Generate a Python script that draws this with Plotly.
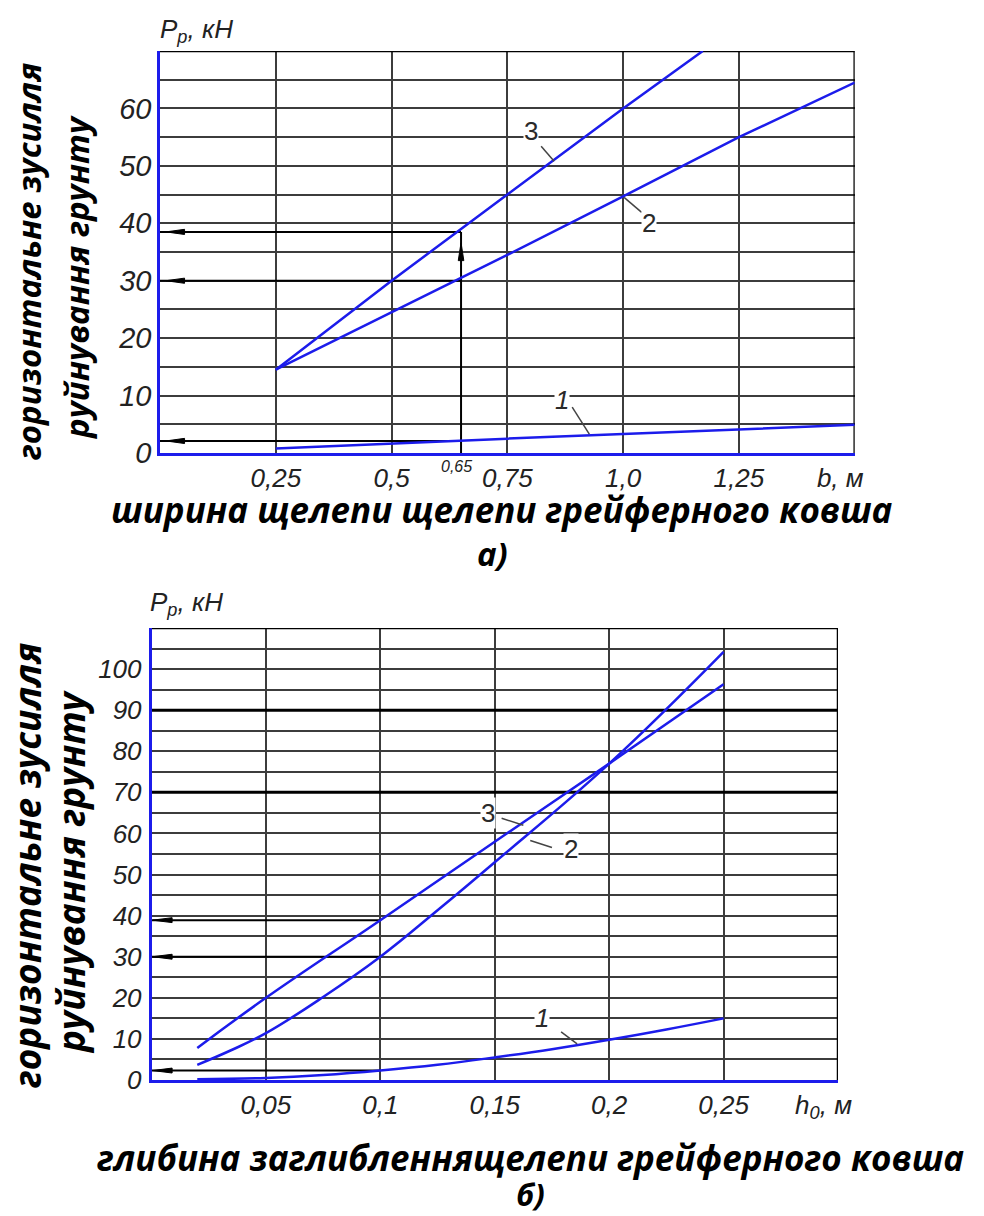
import plotly.graph_objects as go

W, H = 984, 1216

# ---------------- chart a) : P_p vs b ----------------
a_b12 = [0.25, 0.5, 0.75, 1.0, 1.25, 1.5]
a_p1 = [0.8, 1.7, 2.5, 3.3, 4.1, 4.9]
a_p2 = [14.5, 24.5, 34.5, 44.7, 55.0, 64.5]
a_b3 = [0.25, 0.5, 0.75, 1.0, 1.172]
a_p3 = [14.5, 30.0, 45.0, 60.0, 70.0]
a_xticks = [0.25, 0.5, 0.75, 1.0, 1.25, 1.5]
a_xticktext = ["0,25", "0,5", "0,75", "1,0", "1,25", "<i>b, м</i>\u00a0\u00a0\u00a0\u00a0"]
a_yticks = [0, 10, 20, 30, 40, 50, 60]
a_sel_b = 0.65
a_sel_levels = [38.5, 30.0, 2.1]   # curve 3, curve 2, curve 1 at b = 0.65
a_xmax, a_ymax = 1.5, 70

# ---------------- chart б) : P_p vs h0 ----------------
b_h1 = [0.02, 0.05, 0.075, 0.1, 0.125, 0.15, 0.175, 0.2, 0.225, 0.25]
b_p1 = [0.2, 0.5, 1.2, 2.3, 3.7, 5.5, 7.5, 9.8, 12.3, 15.0]
b_h2 = [0.02, 0.035, 0.05, 0.075, 0.1, 0.125, 0.15, 0.2, 0.25]
b_p2 = [3.7, 7.3, 11.4, 20.2, 30.0, 41.3, 53.0, 77.0, 104.2]
b_h3 = [0.02, 0.05, 0.1, 0.15, 0.2, 0.25]
b_p3 = [7.8, 20.0, 38.9, 58.0, 77.0, 96.3]
b_xticks = [0.05, 0.1, 0.15, 0.2, 0.25, 0.3]
b_xticktext = ["0,05", "0,1", "0,15", "0,2", "0,25",
               "<i>h<sub>0</sub>, м</i>\u00a0\u00a0\u00a0\u00a0"]
b_yticks = [0, 10, 20, 30, 40, 50, 60, 70, 80, 90, 100]
b_sel_h = 0.1
b_sel_levels = [38.9, 30.0, 2.3]
b_bold_levels = [90, 70]
b_xmax, b_ymax = 0.3, 110

BLUE = "rgb(28,28,235)"
GRID = "#3c3c3c"
NUMFONT = "Liberation Sans Narrow, Arial Narrow, Liberation Sans, Arial"
TITLEFONT = "Open Sans, Noto Sans, DejaVu Sans"


def px(x):
    return x / W


def py(y):
    return 1 - y / H


fig = go.Figure()

# curves a)
for xs, ys in [(a_b12, a_p1), (a_b12, a_p2), (a_b3, a_p3)]:
    fig.add_trace(go.Scatter(x=xs, y=ys, mode="lines", xaxis="x", yaxis="y",
                             line=dict(color=BLUE, width=2.5), showlegend=False,
                             hoverinfo="skip"))
# curves б)
for xs, ys in [(b_h1, b_p1), (b_h2, b_p2), (b_h3, b_p3)]:
    fig.add_trace(go.Scatter(x=xs, y=ys, mode="lines", xaxis="x2", yaxis="y2",
                             line=dict(color=BLUE, width=2.5, shape="spline",
                                       smoothing=1.2),
                             showlegend=False, hoverinfo="skip"))

shapes = []
annotations = []


def seg(xr, yr, x0, y0, x1, y1, color="black", width=2, layer="between"):
    shapes.append(dict(type="line", xref=xr, yref=yr, x0=x0, y0=y0, x1=x1, y1=y1,
                       line=dict(color=color, width=width), layer=layer))


def head_left(xr, yr, xtip, y, length, half):
    shapes.append(dict(type="path", xref=xr, yref=yr,
                       path=f"M {xtip},{y} L {xtip + length},{y + half} L {xtip + length},{y - half} Z",
                       fillcolor="black", line=dict(color="black", width=1),
                       layer="above"))


def head_up(xr, yr, x, ytip, length, half):
    shapes.append(dict(type="path", xref=xr, yref=yr,
                       path=f"M {x},{ytip} L {x - half},{ytip - length} L {x + half},{ytip - length} Z",
                       fillcolor="black", line=dict(color="black", width=1),
                       layer="above"))


# frame (top / right borders)
seg("x", "y", 0, a_ymax, a_xmax, a_ymax, "black", 2.5)
seg("x", "y", a_xmax, 0, a_xmax, a_ymax, "black", 2.5)
seg("x2", "y2", 0, b_ymax, b_xmax, b_ymax, "black", 2.5)
seg("x2", "y2", b_xmax, 0, b_xmax, b_ymax, "black", 2.5)

# bold grid lines in б)
for lv in b_bold_levels:
    seg("x2", "y2", 0, lv, b_xmax, lv, "black", 3)

# selection lines & arrows a)
seg("x", "y", a_sel_b, 0, a_sel_b, a_sel_levels[0], "black", 2)
for lv in a_sel_levels:
    seg("x", "y", 0, lv, a_sel_b, lv, "black", 2)
    head_left("x", "y", 0.013, lv, 0.04, 0.45)
head_up("x", "y", a_sel_b, a_sel_levels[0] - 1.9, 3.1, 0.006)

# selection lines & arrows б)
for lv in b_sel_levels:
    seg("x2", "y2", 0, lv, b_sel_h, lv, "black", 2)
    head_left("x2", "y2", 0.0005, lv, 0.0085, 0.6)

# leader lines to curve numbers
seg("x", "y", 0.823, 53.4, 0.851, 50.8, "#444", 1.5, "above")
seg("x", "y", 1.002, 44.5, 1.04, 41.9, "#444", 1.5, "above")
seg("x", "y", 0.89, 8.0, 0.927, 3.3, "#444", 1.5, "above")
seg("x2", "y2", 0.153, 63.7, 0.1625, 62.0, "#444", 1.5, "above")
seg("x2", "y2", 0.175, 56.6, 0.1655, 58.3, "#444", 1.5, "above")
seg("x2", "y2", 0.179, 11.7, 0.186, 8.8, "#444", 1.5, "above")


def curve_label(text, xr, yr, x, y):
    annotations.append(dict(text=text, xref=xr, yref=yr, x=x, y=y, showarrow=False,
                            font=dict(family="Liberation Sans, Arial", size=26,
                                      color="#2a2a2a"),
                            bgcolor="white", borderpad=0))


curve_label("3", "x", "y", 0.80, 56.0)
curve_label("2", "x", "y", 1.056, 40.0)
curve_label("<i>1</i>", "x", "y", 0.869, 9.2)
curve_label("3", "x2", "y2", 0.147, 65.1)
curve_label("2", "x2", "y2", 0.1833, 56.1)
curve_label("<i>1</i>", "x2", "y2", 0.1705, 15.2)


def ptext(text, x, y, size, family, color="black", angle=0, xanchor="center"):
    annotations.append(dict(text=text, xref="paper", yref="paper", x=px(x), y=py(y),
                            xanchor=xanchor, yanchor="middle", showarrow=False,
                            textangle=angle,
                            font=dict(family=family, size=size, color=color)))


# axis captions
ptext("<i>P<sub>p</sub>, кН</i>", 158, 30, 26, NUMFONT, "#222", xanchor="left")
ptext("<i>P<sub>p</sub>, кН</i>", 148, 603, 26, NUMFONT, "#222", xanchor="left")
ptext("<i>0,65</i>", 456, 466, 16, NUMFONT, "#222")

# titles
ptext("<b><i>горизонтальне зусилля</i></b>", 28, 262, 33, TITLEFONT, angle=-90)
ptext("<b><i>руйнування грунту</i></b>", 76, 278, 33, TITLEFONT, angle=-90)
ptext("<b><i>ширина щелепи щелепи грейферного ковша</i></b>", 502, 510, 35, TITLEFONT)
ptext("<b><i>а)</i></b>", 492, 553, 33, TITLEFONT)

ptext("<b><i>горизонтальне зусилля</i></b>", 26, 865, 37, TITLEFONT, angle=-90)
ptext("<b><i>руйнування грунту</i></b>", 70, 872, 37, TITLEFONT, angle=-90)
ptext("<b><i>глибина заглибленнящелепи грейферного ковша</i></b>", 530, 1157, 35, TITLEFONT)
ptext("<b><i>б)</i></b>", 530, 1194, 31, TITLEFONT)

tickfont = dict(family=NUMFONT, size=26, color="#222", style="italic")

common = dict(showgrid=True, gridcolor=GRID, gridwidth=2, zeroline=False,
              showline=True, linecolor=BLUE, linewidth=2.5, ticks="", ticklen=0,
              fixedrange=True, automargin=False, tickmode="array")

fig.update_layout(
    width=W, height=H, margin=dict(l=0, r=0, t=0, b=0, autoexpand=False),
    paper_bgcolor="white", plot_bgcolor="white",
    shapes=shapes, annotations=annotations, showlegend=False,
    xaxis=dict(domain=[px(160), px(854.7)], range=[0, a_xmax], anchor="y",
               tickvals=a_xticks, ticktext=a_xticktext,
               tickfont=tickfont, ticklabelstandoff=0, **common),
    yaxis=dict(domain=[py(453), py(51)], range=[0, a_ymax], anchor="x",
               tickvals=a_yticks,
               minor=dict(tickmode="linear", tick0=0, dtick=5, showgrid=True,
                          gridcolor=GRID, gridwidth=2, ticks=""),
               tickfont=dict(family=NUMFONT, size=29, color="#222", style="italic"),
               ticklabelstandoff=0, **common),
    xaxis2=dict(domain=[px(151.5), px(838)], range=[0, b_xmax], anchor="y2",
                tickvals=b_xticks, ticktext=b_xticktext,
                tickfont=tickfont, ticklabelstandoff=0, **common),
    yaxis2=dict(domain=[py(1080), py(628)], range=[0, b_ymax], anchor="x2",
                tickvals=b_yticks,
                minor=dict(tickmode="linear", tick0=0, dtick=5, showgrid=True,
                           gridcolor=GRID, gridwidth=2, ticks=""),
                tickfont=tickfont, ticklabelstandoff=2, **common),
)

fig.write_html("out.html")
